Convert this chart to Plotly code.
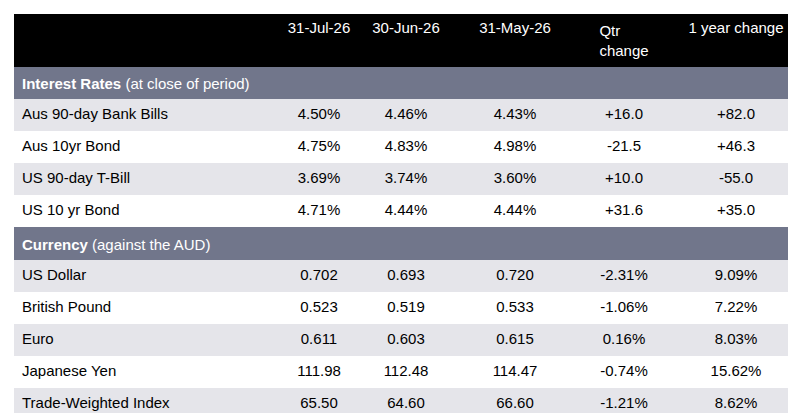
import plotly.graph_objects as go

columns = ["", "31-Jul-26", "30-Jun-26", "31-May-26", "Qtr change", "1 year change"]

labels = ["<b>Interest Rates</b> (at close of period)", "Aus 90-day Bank Bills", "Aus 10yr Bond",
          "US 90-day T-Bill", "US 10 yr Bond", "<b>Currency</b> (against the AUD)",
          "US Dollar", "British Pound", "Euro", "Japanese Yen", "Trade-Weighted Index"]
jul26 = ["", "4.50%", "4.75%", "3.69%", "4.71%", "", "0.702", "0.523", "0.611", "111.98", "65.50"]
jun26 = ["", "4.46%", "4.83%", "3.74%", "4.44%", "", "0.693", "0.519", "0.603", "112.48", "64.60"]
may26 = ["", "4.43%", "4.98%", "3.60%", "4.44%", "", "0.720", "0.533", "0.615", "114.47", "66.60"]
qtr_change = ["", "+16.0", "-21.5", "+10.0", "+31.6", "", "-2.31%", "-1.06%", "0.16%", "-0.74%", "-1.21%"]
year_change = ["", "+82.0", "+46.3", "-55.0", "+35.0", "", "9.09%", "7.22%", "8.03%", "15.62%", "8.62%"]

section_rows = [0, 5]
SECTION = "#71768b"
LIGHT = "#e5e5ea"

fills, fonts = [], []
stripe = 0
for i in range(len(labels)):
    if i in section_rows:
        fills.append(SECTION)
        fonts.append("white")
        stripe = 0
    else:
        fills.append(LIGHT if stripe % 2 == 0 else "white")
        fonts.append("black")
        stripe += 1

fig = go.Figure(go.Table(
    columnwidth=[262, 86, 88, 130, 88, 136],
    header=dict(values=columns, fill_color="black", line_color="black",
                font=dict(color="white", size=15, family="Liberation Sans, Arial"),
                align=["left", "center"], height=44),
    cells=dict(values=[labels, jul26, jun26, may26, qtr_change, year_change],
               fill_color=[fills] * 6, line_color=[fills] * 6,
               font=dict(color=[fonts] * 6, size=15, family="Liberation Sans, Arial"),
               align=["left", "center"], height=32),
))
fig.update_layout(width=796, height=413, margin=dict(l=6, r=0, t=6, b=0),
                  paper_bgcolor="white")
fig.write_html("out.html")
